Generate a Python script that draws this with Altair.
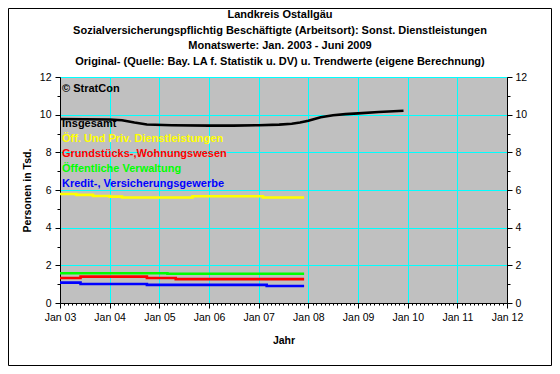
import altair as alt
import pandas as pd

# ---------------- data ----------------
title_lines = [
    "Landkreis Ostallgäu",
    "Sozialversicherungspflichtig Beschäftigte (Arbeitsort): Sonst. Dienstleistungen",
    "Monatswerte: Jan. 2003 - Juni 2009",
    "Original- (Quelle: Bay. LA f. Statistik u. DV) u. Trendwerte (eigene Berechnung)",
]
copyright_text = "© StratCon"
series_names = [
    "Insgesamt",
    "Öff. Und Priv. Dienstleistungen",
    "Grundstücks-,Wohnungswesen",
    "Öffentliche Verwaltung",
    "Kredit-, Versicherungsgewerbe",
]
series_colors = ["#000000", "#FFFF00", "#FF0000", "#00FF00", "#0000FF"]

total_dates = ["2003-01", "2003-07", "2004-01", "2004-04", "2004-07", "2004-10",
               "2005-04", "2006-01", "2006-07", "2007-01", "2007-06", "2007-09",
               "2007-11", "2008-01", "2008-04", "2008-07", "2008-10", "2009-01",
               "2009-06", "2009-12"]
total_values = [9.77, 9.76, 9.74, 9.70, 9.58, 9.48, 9.44, 9.42, 9.42, 9.44, 9.47,
                9.52, 9.58, 9.68, 9.86, 9.97, 10.03, 10.07, 10.14, 10.21]

dienst_dates = ["2003-01", "2003-05", "2003-09", "2004-01", "2004-04", "2005-09",
                "2007-02", "2007-12"]
dienst_values = [5.79, 5.74, 5.68, 5.65, 5.60, 5.67, 5.60, 5.60]

grund_dates = ["2003-01", "2003-06", "2004-10", "2005-05", "2007-12"]
grund_values = [1.33, 1.40, 1.33, 1.27, 1.27]

verw_dates = ["2003-01", "2005-03", "2007-12"]
verw_values = [1.58, 1.55, 1.55]

kredit_dates = ["2003-01", "2003-06", "2004-10", "2007-03", "2007-12"]
kredit_values = [1.08, 1.01, 0.96, 0.90, 0.90]

y_ticks = list(range(0, 13))

# ---------------- build tables ----------------
def frame(name, dates, values):
    return pd.DataFrame({
        "date": pd.to_datetime([d + "-01" for d in dates]),
        "value": values,
        "series": name,
    })

df_total = frame(series_names[0], total_dates, total_values)
df_steps = pd.concat([
    frame(series_names[1], dienst_dates, dienst_values),
    frame(series_names[2], grund_dates, grund_values),
    frame(series_names[3], verw_dates, verw_values),
    frame(series_names[4], kredit_dates, kredit_values),
])

FONT = "Liberation Sans"
W, H = 447, 226
PAD = {"left": 52, "top": 69, "right": 45, "bottom": 63}

month_vals = [alt.DateTime(year=y, month=m, date=1)
              for y in range(2003, 2012) for m in range(1, 13)]
month_vals.append(alt.DateTime(year=2012, month=1, date=1))

x_enc = alt.X(
    "date:T",
    scale=alt.Scale(domain=[alt.DateTime(year=2003, month=1, date=1),
                            alt.DateTime(year=2012, month=1, date=1)], nice=False),
    axis=alt.Axis(
        values=month_vals,
        labelExpr="month(datum.value) == 0 ? timeFormat(datum.value, 'Jan %y') : ''",
        labelOverlap=False, labelFlush=False,
        tickSize={"condition": {"test": "month(datum.value) == 0", "value": 5}, "value": 2},
        gridOpacity={"condition": {"test": "month(datum.value) == 0", "value": 1}, "value": 0},
        grid=True, gridColor="#00FFFF", gridWidth=1,
        domainColor="black", tickColor="black",
        labelFont=FONT, labelFontSize=10.5, labelColor="black", labelPadding=4,
        title="Jahr", titleFont=FONT, titleFontSize=10.5, titleColor="black",
        titleFontWeight="bold", titlePadding=13,
    ),
)

y_scale = alt.Scale(domain=[0, 12], nice=False)
odd_even = "datum.value % 2 == 0"

y_left = alt.Y(
    "value:Q", scale=y_scale,
    axis=alt.Axis(
        values=y_ticks, labelExpr=f"{odd_even} ? datum.label : ''",
        tickSize={"condition": {"test": odd_even, "value": 5}, "value": 3},
        gridOpacity={"condition": {"test": odd_even, "value": 1}, "value": 0},
        grid=True, gridColor="#00FFFF", gridWidth=1,
        domainColor="black", tickColor="black", labelOverlap=False, labelFlush=False,
        labelFont=FONT, labelFontSize=10.5, labelColor="black", labelPadding=4,
        title="Personen in Tsd.", titleFont=FONT, titleFontSize=10.5,
        titleColor="black", titleFontWeight="bold", titlePadding=7,
    ),
)
y_right = alt.Y(
    "value:Q", scale=y_scale,
    axis=alt.Axis(
        orient="right",
        values=y_ticks, labelExpr=f"{odd_even} ? datum.label : ''",
        tickSize={"condition": {"test": odd_even, "value": 5}, "value": 3},
        grid=False, domainColor="black", tickColor="black",
        labelOverlap=False, labelFlush=False,
        labelFont=FONT, labelFontSize=10.5, labelColor="black", labelPadding=3,
        title=None,
    ),
)

color_scale = alt.Scale(domain=series_names, range=series_colors)

steps = alt.Chart(df_steps).mark_line(interpolate="step-after", strokeWidth=2.6).encode(
    x=x_enc, y=y_left,
    color=alt.Color("series:N", scale=color_scale, legend=None),
)
total = alt.Chart(df_total).mark_line(strokeWidth=2.6, color="#000000").encode(
    x=x_enc, y=y_right,
)

one = pd.DataFrame({"a": [0]})

title_y = [-62, -46.5, -31, -15.5]
title_marks = [
    alt.Chart(one).mark_text(
        text=line, font=FONT, fontSize=11, fontWeight="bold", color="black",
        align="center", baseline="middle",
    ).encode(x=alt.value(220), y=alt.value(py))
    for line, py in zip(title_lines, title_y)
]

label_y = [47, 61.5, 76.5, 91.5, 107]
labels = [
    alt.Chart(one).mark_text(
        text=copyright_text, font=FONT, fontSize=11, fontWeight="bold",
        color="black", align="left", baseline="middle",
    ).encode(x=alt.value(2), y=alt.value(11.5))
]
for name, col, py in zip(series_names, series_colors, label_y):
    labels.append(
        alt.Chart(one).mark_text(
            text=name, font=FONT, fontSize=11, fontWeight="bold",
            color=col, align="left", baseline="middle",
        ).encode(x=alt.value(2), y=alt.value(py))
    )

border = alt.Chart(one).mark_rect(fill=None, stroke="black", strokeWidth=1).encode(
    x=alt.value(-PAD["left"] + 0.5), x2=alt.value(W + PAD["right"] - 0.5),
    y=alt.value(-PAD["top"] + 0.5), y2=alt.value(H + PAD["bottom"] - 0.5),
)

chart = alt.layer(steps, total, *title_marks, *labels, border).resolve_axis(
    y="independent"
).resolve_scale(y="shared").properties(
    width=W, height=H, padding=PAD, autosize=alt.AutoSizeParams(type="none"),
    background="white",
).configure_view(fill="#C0C0C0", stroke="#808080")

chart.save("out.html", embed_options={"renderer": "svg", "actions": False})
